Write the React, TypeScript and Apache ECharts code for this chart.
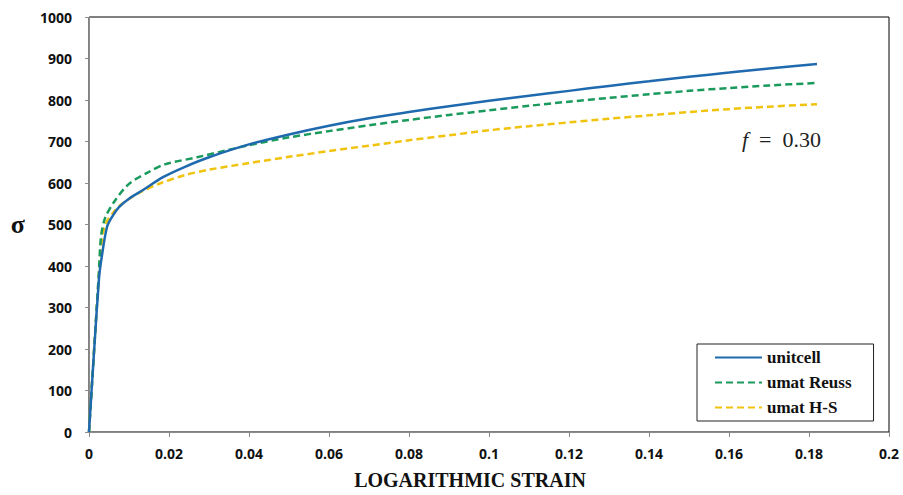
import React, { useEffect, useRef } from "react";
import * as echarts from "echarts";

const seriesNames = ["unitcell", "umat Reuss", "umat H-S"];

const unitcellStrain = [0, 0.0005, 0.0012, 0.0025, 0.003, 0.0045, 0.006, 0.0075, 0.01, 0.0135, 0.0185, 0.024, 0.03, 0.04, 0.05, 0.06, 0.07, 0.08, 0.09, 0.1, 0.11, 0.12, 0.13, 0.14, 0.15, 0.16, 0.17, 0.182];
const unitcellStress = [0, 77, 185, 370, 410, 494, 522, 542, 562, 583, 614, 639, 662, 693, 717, 738, 756, 771, 785, 798, 810, 822, 834, 845, 856, 866, 876, 887];

const reussStrain = [0, 0.0005, 0.002, 0.0025, 0.003, 0.004, 0.0063, 0.01, 0.015, 0.019, 0.027, 0.035, 0.04, 0.05, 0.06, 0.07, 0.08, 0.09, 0.1, 0.11, 0.12, 0.13, 0.14, 0.15, 0.16, 0.17, 0.182];
const reussStress = [0, 77, 310, 390, 470, 515, 555, 598, 627, 645, 662, 680, 691, 710, 725, 739, 752, 764, 775, 786, 796, 805, 814, 822, 829, 835, 841];

const hsStrain = [0, 0.0005, 0.002, 0.0028, 0.0035, 0.0045, 0.006, 0.008, 0.0125, 0.018, 0.024, 0.03, 0.04, 0.05, 0.06, 0.07, 0.08, 0.09, 0.1, 0.11, 0.12, 0.13, 0.14, 0.15, 0.16, 0.17, 0.182];
const hsStress = [0, 80, 310, 420, 480, 508, 528, 548, 576, 600, 619, 632, 648, 663, 677, 690, 703, 715, 727, 737, 746, 755, 763, 771, 778, 784, 790];

const colors = ["#1f6aae", "#1a9a5c", "#f0c30f"];

function pairs(xs: number[], ys: number[]) {
  return xs.map((x, i) => [x, ys[i]]);
}

export default function App() {
  const ref = useRef<HTMLDivElement>(null);
  useEffect(() => {
    if (!ref.current) return;
    const chart = echarts.init(ref.current, undefined, { renderer: "svg" });
    const tickFont = { fontFamily: "'Open Sans', sans-serif", fontWeight: "bold" as const, fontSize: 14, color: "#111" };
    chart.setOption({
      animation: false,
      backgroundColor: "#fff",
      grid: {
        left: 89, right: 14, top: 17, bottom: 63,
        show: true, borderColor: "#000", borderWidth: 1,
        outerBoundsMode: "none", containLabel: false,
      },
      xAxis: {
        type: "value",
        min: 0,
        max: 0.2,
        interval: 0.02,
        name: "LOGARITHMIC STRAIN",
        nameLocation: "middle",
        nameGap: 38,
        nameTextStyle: { fontFamily: "'Liberation Serif', serif", fontWeight: "bold", fontSize: 20, color: "#111", padding: [0, 38, 0, 0] },
        axisLine: { show: true, lineStyle: { color: "#8c8c8c", width: 1 } },
        axisTick: { show: true, length: 5, lineStyle: { color: "#8c8c8c" } },
        axisLabel: { ...tickFont, margin: 14, formatter: (v: number) => String(Math.round(v * 100) / 100) },
        splitLine: { show: false },
      },
      yAxis: {
        type: "value",
        min: 0,
        max: 1000,
        interval: 100,
        name: "σ",
        nameLocation: "middle",
        nameRotate: 0,
        nameGap: 64,
        nameTextStyle: { fontFamily: "'Liberation Serif', serif", fontWeight: "bold", fontSize: 26, color: "#111", padding: [12, 0, 0, 0] },
        axisLine: { show: true, lineStyle: { color: "#8c8c8c", width: 1 } },
        axisTick: { show: true, length: 4, lineStyle: { color: "#8c8c8c" } },
        axisLabel: { ...tickFont, margin: 17, formatter: (v: number) => String(v) },
        splitLine: { show: false },
      },
      legend: {
        left: 697,
        top: 344,
        orient: "vertical",
        padding: [5, 22, 5, 17],
        itemGap: 8,
        itemWidth: 47,
        itemHeight: 14,
        borderColor: "#222",
        borderWidth: 1,
        backgroundColor: "#fff",
        itemStyle: { opacity: 0 },
        textStyle: { fontFamily: "'Liberation Serif', serif", fontWeight: "bold", fontSize: 17, color: "#111" },
        data: seriesNames,
      },
      graphic: [
        {
          type: "text",
          left: 742,
          top: 128,
          style: {
            text: "{i|f}  =  0.30",
            rich: {
              i: { fontFamily: "'Liberation Serif', serif", fontStyle: "italic", fontSize: 22, fill: "#222" },
            },
            fontFamily: "'Liberation Serif', serif",
            fontSize: 22,
            fill: "#222",
          },
        },
      ],
      series: [
        {
          name: seriesNames[0],
          type: "line",
          data: pairs(unitcellStrain, unitcellStress),
          symbol: "none",
          smooth: 0.3,
          color: colors[0],
          lineStyle: { width: 2.5, color: colors[0], type: "solid" },
          z: 3,
        },
        {
          name: seriesNames[1],
          type: "line",
          data: pairs(reussStrain, reussStress),
          symbol: "none",
          smooth: 0.3,
          color: colors[1],
          lineStyle: { width: 2.5, color: colors[1], type: [7, 4] },
          z: 2,
        },
        {
          name: seriesNames[2],
          type: "line",
          data: pairs(hsStrain, hsStress),
          symbol: "none",
          smooth: 0.3,
          color: colors[2],
          lineStyle: { width: 2.5, color: colors[2], type: [7, 4] },
          z: 1,
        },
      ],
    });
    return () => chart.dispose();
  }, []);
  return <div ref={ref} style={{ position: "fixed", left: 0, top: 0, width: 903, height: 495 }} />;
}
